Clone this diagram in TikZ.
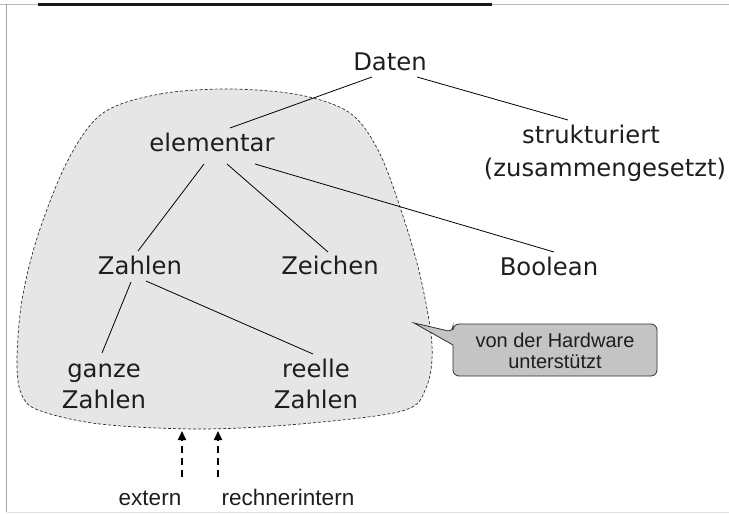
\documentclass[tikz,border=0pt]{standalone}
\usepackage{fontspec}
\setmainfont{DejaVu Sans}
\newfontfamily\arialf{Liberation Sans}
\usetikzlibrary{calc,arrows.meta}
\definecolor{txt}{HTML}{1E1E1E}
\definecolor{blobfill}{HTML}{E6E6E6}
\definecolor{blobline}{HTML}{303030}
\definecolor{callfill}{HTML}{C4C4C4}
\begin{document}
\begin{tikzpicture}[x=1pt,y=-1pt,
  lbl/.style={font=\fontsize{24.3}{31}\selectfont, text=txt, inner sep=0pt, anchor=base},
  lbltwo/.style={font=\fontsize{24.3}{31}\selectfont, text=txt, inner sep=0pt, anchor=north, align=center},
  small/.style={font=\arialf\fontsize{22.5}{26}\selectfont, text=txt, inner sep=0pt, anchor=base},
  conn/.style={draw=black, line width=0.8pt},
  uparrow/.style={draw=black, line width=2pt, dash pattern=on 7pt off 5pt, -{Triangle[width=8pt,length=9pt]}}
]
\useasboundingbox (0,0) rectangle (729,514);
% frame
\draw[gray!55, line width=0.8pt] (0,4) -- (729,4);
\draw[black!90, line width=2.2pt] (38,4.5) -- (492,4.5);
\draw[gray!70, line width=0.8pt] (6.5,4) -- (6.5,512);
\draw[gray!25, line width=0.8pt] (6.5,512.5) -- (729,512.5);
% blob
\def\blobpts{(103,113) (160,94) (230,89) (300,95) (350,113) (378,150) (400,207) (420,275) (432,345) (426,388) (402,411) (300,424) (200,429) (100,424) (38,410) (21,393) (17,360) (22,300) (38,235) (68,160)}
\fill[blobfill] plot[smooth cycle, tension=0.55] coordinates {\blobpts};
\draw[blobline, line width=0.7pt, dash pattern=on 3pt off 2pt] plot[smooth cycle, tension=0.55] coordinates {\blobpts};
% nodes
\node[lbl] (daten) at (390,70) {Daten};
\node[lbl] (elem) at (212,151) {elementar};
\node[lbltwo, font=\fontsize{24.3}{33}\selectfont] (strukt) at (605,125) {\rule{0pt}{18pt}strukturiert\kern28pt\\(zusammengesetzt)};
\node[lbl] (zahlen) at (140,274) {Zahlen};
\node[lbl] (zeichen) at (330,274) {Zeichen};
\node[lbl] (bool) at (549,275) {Boolean};
\node[lbltwo] (ganze) at (104,359) {\rule{0pt}{18pt}ganze\\Zahlen};
\node[lbltwo] (reelle) at (316,359) {\rule{0pt}{18pt}reelle\\Zahlen};
% connectors
\draw[conn] ($(daten.base)+(-18,7)$) -- ($(elem.base)+(18,-23)$);
\draw[conn] ($(daten.base)+(27,7)$) -- ($(strukt.north)+(-37,-5)$);
\draw[conn] ($(elem.base)+(-8,13)$) -- ($(zahlen.base)+(-2,-23)$);
\draw[conn] ($(elem.base)+(15,13)$) -- ($(zeichen.base)+(-2,-22)$);
\draw[conn] ($(elem.base)+(43,13)$) -- ($(bool.base)+(5,-23)$);
\draw[conn] ($(zahlen.base)+(-9,8)$) -- ($(ganze.north)+(-2,-6)$);
\draw[conn] ($(zahlen.base)+(6,7)$) -- ($(reelle.north)+(-3,-5)$);
% callout
\filldraw[fill=callfill, draw=blobline, line width=0.8pt, rounded corners=6pt]
  (453,345) -- (453,376) -- (657,376) -- (657,324) -- (453,324) -- (453,332) [sharp corners] -- (414,323) -- cycle;
\node[font=\arialf\fontsize{20}{21}\selectfont, text=txt, inner sep=0pt, align=center] (hw) at (555,350.5) {von der Hardware\\unterstützt};
% bottom labels and arrows
\node[small] (extern) at (150,505) {extern};
\node[small] (intern) at (288,505) {rechnerintern};
\coordinate (a1s) at (182,477);
\coordinate (a1e) at (182,431);
\coordinate (a2s) at (218,477);
\coordinate (a2e) at (218,431);
\draw[uparrow] (a1s) -- (a1e);
\draw[uparrow] (a2s) -- (a2e);
\end{tikzpicture}
\end{document}
